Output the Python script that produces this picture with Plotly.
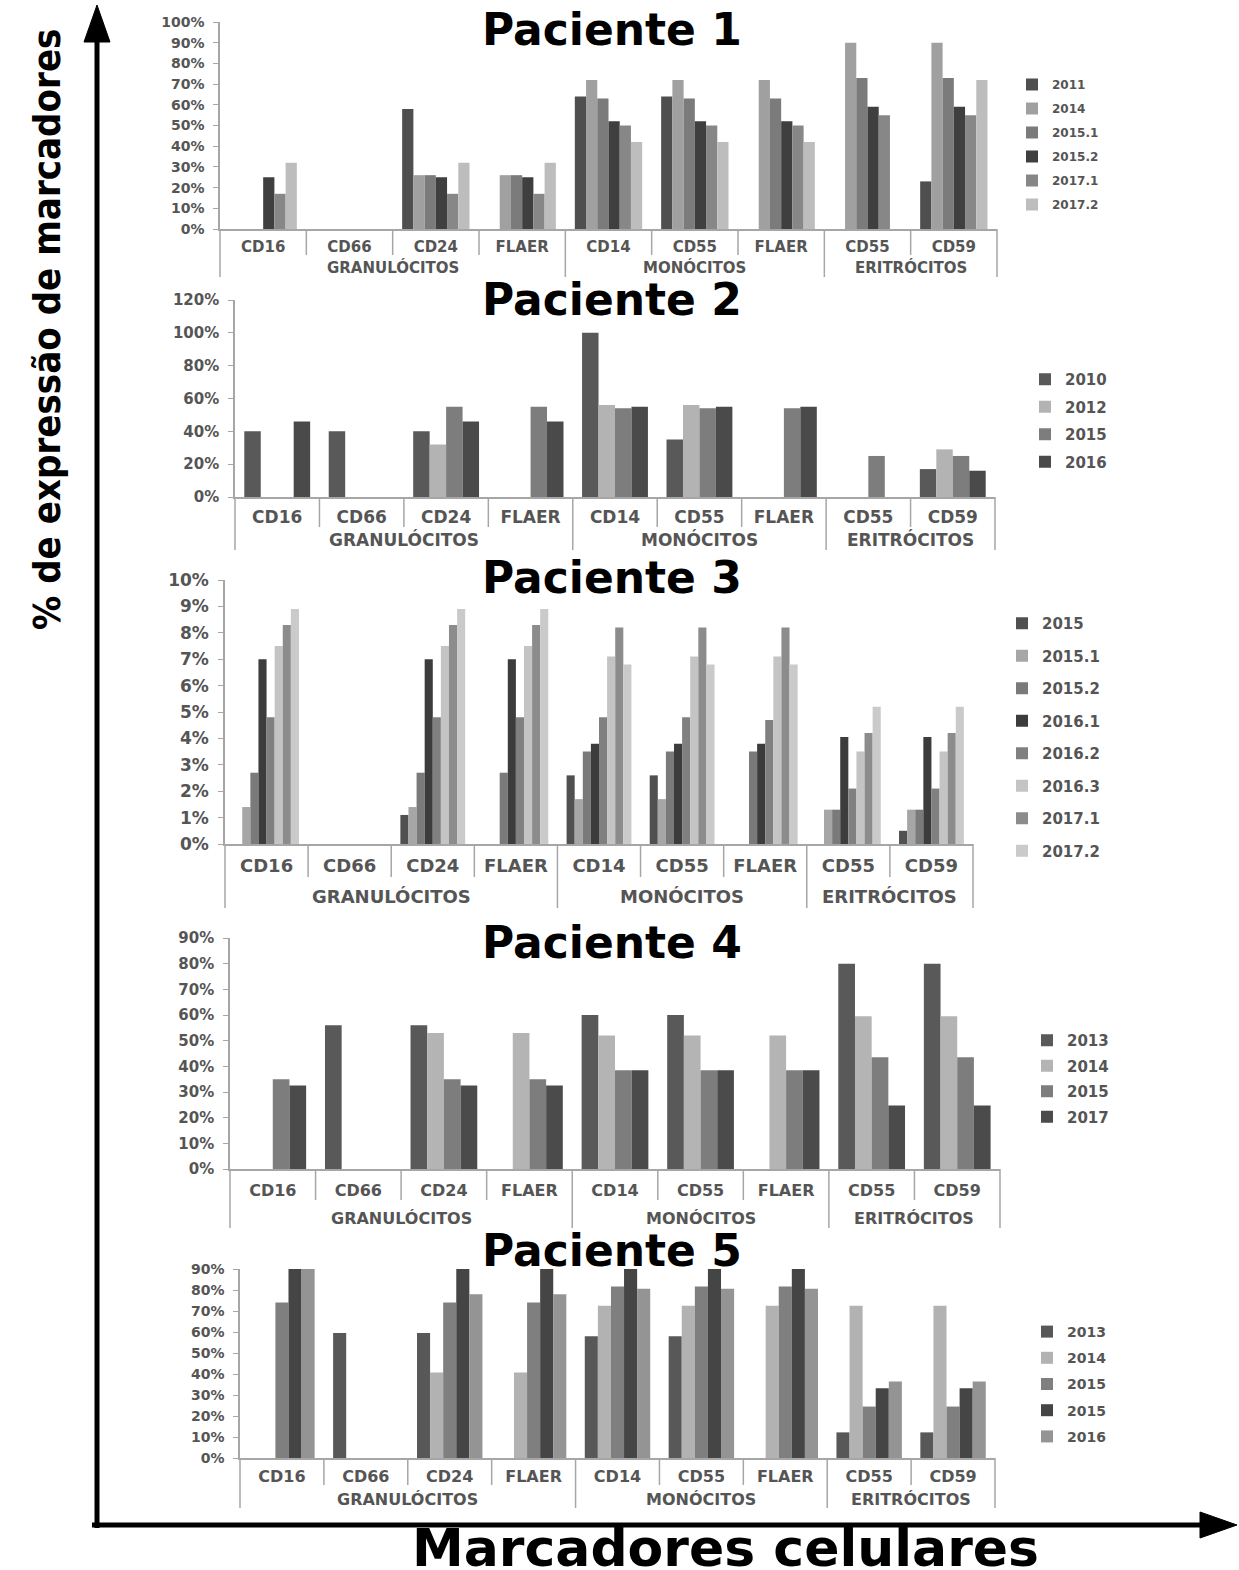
import plotly.graph_objects as go

W, H = 1239, 1570

# ---------------- data ----------------
groups = ["GRANULÓCITOS"] * 4 + ["MONÓCITOS"] * 3 + ["ERITRÓCITOS"] * 2
markers = ["CD16", "CD66", "CD24", "FLAER", "CD14", "CD55", "FLAER", "CD55", "CD59"]
group_names = ["GRANULÓCITOS", "MONÓCITOS", "ERITRÓCITOS"]

# Paciente 1 (%)
p1_names = ["2011", "2014", "2015.1", "2015.2", "2017.1", "2017.2"]
p1_2011 = [None, None, 58, None, 64, 64, None, None, 23]
p1_2014 = [None, None, 26, 26, 72, 72, 72, 90, 90]
p1_2015_1 = [None, None, 26, 26, 63, 63, 63, 73, 73]
p1_2015_2 = [25, None, 25, 25, 52, 52, 52, 59, 59]
p1_2017_1 = [17, None, 17, 17, 50, 50, 50, 55, 55]
p1_2017_2 = [32, None, 32, 32, 42, 42, 42, None, 72]

# Paciente 2 (%)
p2_names = ["2010", "2012", "2015", "2016"]
p2_2010 = [40, 40, 40, None, 100, 35, None, None, 17]
p2_2012 = [None, None, 32, None, 56, 56, None, None, 29]
p2_2015 = [None, None, 55, 55, 54, 54, 54, 25, 25]
p2_2016 = [46, None, 46, 46, 55, 55, 55, None, 16]

# Paciente 3 (%)
p3_names = ["2015", "2015.1", "2015.2", "2016.1", "2016.2", "2016.3", "2017.1", "2017.2"]
p3_2015 = [None, None, 1.1, None, 2.6, 2.6, None, None, 0.5]
p3_2015_1 = [1.4, None, 1.4, None, 1.7, 1.7, None, 1.3, 1.3]
p3_2015_2 = [2.7, None, 2.7, 2.7, 3.5, 3.5, 3.5, 1.3, 1.3]
p3_2016_1 = [7.0, None, 7.0, 7.0, 3.8, 3.8, 3.8, 4.05, 4.05]
p3_2016_2 = [4.8, None, 4.8, 4.8, 4.8, 4.8, 4.7, 2.1, 2.1]
p3_2016_3 = [7.5, None, 7.5, 7.5, 7.1, 7.1, 7.1, 3.5, 3.5]
p3_2017_1 = [8.3, None, 8.3, 8.3, 8.2, 8.2, 8.2, 4.2, 4.2]
p3_2017_2 = [8.9, None, 8.9, 8.9, 6.8, 6.8, 6.8, 5.2, 5.2]

# Paciente 4 (%)
p4_names = ["2013", "2014", "2015", "2017"]
p4_2013 = [None, 56, 56, None, 60, 60, None, 80, 80]
p4_2014 = [None, None, 53, 53, 52, 52, 52, 59.5, 59.5]
p4_2015 = [35, None, 35, 35, 38.5, 38.5, 38.5, 43.5, 43.5]
p4_2017 = [32.5, None, 32.5, 32.5, 38.5, 38.5, 38.5, 24.7, 24.7]

# Paciente 5 (%)
p5_names = ["2013", "2014", "2015", "2015", "2016"]
p5_2013 = [None, 59.5, 59.5, None, 58, 58, None, 12.2, 12.2]
p5_2014 = [None, None, 40.7, 40.7, 72.5, 72.5, 72.5, 72.5, 72.5]
p5_2015a = [74, None, 74, 74, 81.7, 81.7, 81.7, 24.5, 24.5]
p5_2015b = [90, None, 90, 90, 90, 90, 90, 33.2, 33.2]
p5_2016 = [90, None, 78, 78, 80.6, 80.6, 80.6, 36.4, 36.4]

titles = ["Paciente 1", "Paciente 2", "Paciente 3", "Paciente 4", "Paciente 5"]
y_label = "% de expressão de marcadores"
x_label = "Marcadores celulares"

# unique category keys (group + marker) so repeated marker names stay separate
cat_keys = [g + " · " + m for g, m in zip(groups, markers)]

# ---------------- styling / layout (pixels) ----------------
panels = [
    dict(title=titles[0], names=p1_names,
         series=[p1_2011, p1_2014, p1_2015_1, p1_2015_2, p1_2017_1, p1_2017_2],
         colors=["#4f4f4f", "#a0a0a0", "#7b7b7b", "#3f3f3f", "#878787", "#bdbdbd"],
         ymax=100, dtick=10, x0=220, x1=997, ytop=22, ybot=229,
         tick_fs=14, cat_fs=15, leg_fs=12, leg_x=1012, leg_top=70, leg_gap=5,
         lab_stand=3, grp_y=268, tick_bot=255, div_bot=277, title_y=30),
    dict(title=titles[1], names=p2_names,
         series=[p2_2010, p2_2012, p2_2015, p2_2016],
         colors=["#595959", "#b3b3b3", "#7d7d7d", "#4a4a4a"],
         ymax=120, dtick=20, x0=235, x1=995, ytop=300, ybot=497,
         tick_fs=15, cat_fs=17, leg_fs=15, leg_x=1025, leg_top=363, leg_gap=5,
         lab_stand=4, grp_y=540, tick_bot=527, div_bot=550, title_y=300),
    dict(title=titles[2], names=p3_names,
         series=[p3_2015, p3_2015_1, p3_2015_2, p3_2016_1, p3_2016_2, p3_2016_3,
                 p3_2017_1, p3_2017_2],
         colors=["#505050", "#a6a6a6", "#7a7a7a", "#3c3c3c", "#808080", "#c4c4c4",
                 "#8c8c8c", "#cacaca"],
         ymax=10, dtick=1, x0=225, x1=973, ytop=580, ybot=844,
         tick_fs=17, cat_fs=18, leg_fs=15, leg_x=1002, leg_top=607, leg_gap=10,
         lab_stand=5, grp_y=896, tick_bot=877, div_bot=908, title_y=577),
    dict(title=titles[3], names=p4_names,
         series=[p4_2013, p4_2014, p4_2015, p4_2017],
         colors=["#595959", "#b4b4b4", "#7d7d7d", "#4b4b4b"],
         ymax=90, dtick=10, x0=230, x1=1000, ytop=938, ybot=1169,
         tick_fs=15, cat_fs=16, leg_fs=15, leg_x=1027, leg_top=1024, leg_gap=3,
         lab_stand=6, grp_y=1218, tick_bot=1200, div_bot=1228, title_y=942),
    dict(title=titles[4], names=p5_names,
         series=[p5_2013, p5_2014, p5_2015a, p5_2015b, p5_2016],
         colors=["#585858", "#b2b2b2", "#7f7f7f", "#454545", "#949494"],
         ymax=90, dtick=10, x0=240, x1=995, ytop=1269, ybot=1458,
         tick_fs=14, cat_fs=16, leg_fs=14, leg_x=1027, leg_top=1316, leg_gap=5,
         lab_stand=3, grp_y=1499, tick_bot=1485, div_bot=1508, title_y=1250),
]

FONT = "DejaVu Sans"
TXT = "#555555"
AXC = "#a6a6a6"


def px_x(v):
    return v / W


def px_y(v):
    return 1 - v / H


fig = go.Figure()
layout = dict(
    width=W, height=H, margin=dict(l=0, r=0, t=0, b=0, autoexpand=False),
    paper_bgcolor="white", plot_bgcolor="white",
    barmode="group", bargap=0.22, bargroupgap=0.0,
    showlegend=True, font=dict(family=FONT, color=TXT),
)
shapes = []
annotations = []
ncat = len(markers)

for i, p in enumerate(panels):
    n = i + 1
    sfx = "" if n == 1 else str(n)
    xa, ya = "x" + sfx, "y" + sfx
    leg = "legend" + sfx
    for name, vals, col in zip(p["names"], p["series"], p["colors"]):
        fig.add_trace(go.Bar(
            x=cat_keys, y=vals, name=name,
            marker=dict(color=col, line=dict(width=0)),
            xaxis=xa, yaxis=ya, legend=leg,
            legendgroup=f"p{n}-{name}-{col}",
        ))
    layout["xaxis" + sfx] = dict(
        domain=[px_x(p["x0"]), px_x(p["x1"])], anchor=ya, type="category",
        categoryorder="array", categoryarray=cat_keys,
        tickmode="array", tickvals=cat_keys, ticktext=markers,
        showline=True, linecolor=AXC, linewidth=1.5, ticks="",
        tickfont=dict(family=FONT, size=p["cat_fs"], color=TXT, weight="bold"),
        showgrid=False, zeroline=False, automargin=False,
        ticklabelstandoff=p["lab_stand"], tickangle=0,
    )
    layout["yaxis" + sfx] = dict(
        domain=[px_y(p["ybot"]), px_y(p["ytop"])], anchor=xa,
        range=[0, p["ymax"]], dtick=p["dtick"], tick0=0, ticksuffix="%",
        showline=True, linecolor=AXC, linewidth=1.5, ticks="outside",
        ticklen=5, tickcolor=AXC, showgrid=False, zeroline=False,
        tickfont=dict(family=FONT, size=p["tick_fs"], color=TXT, weight="bold"),
        automargin=False, ticklabelstandoff=6,
    )
    layout[leg] = dict(
        x=px_x(p["leg_x"]), y=px_y(p["leg_top"]), xanchor="left", yanchor="top",
        orientation="v", traceorder="grouped", tracegroupgap=p["leg_gap"],
        bgcolor="rgba(0,0,0,0)", itemwidth=30,
        font=dict(family=FONT, size=p["leg_fs"], color=TXT, weight="bold"),
    )
    dom_h = p["ybot"] - p["ytop"]
    # category boundary tick lines and group dividers (Excel-style)
    bounds = [0]
    for k in range(1, ncat):
        if groups[k] != groups[k - 1]:
            bounds.append(k)
    bounds.append(ncat)
    for k in range(0, ncat + 1):
        is_div = k in bounds
        bot = p["div_bot"] if is_div else p["tick_bot"]
        shapes.append(dict(
            type="line", xref=xa + " domain", yref=ya + " domain",
            x0=k / ncat, x1=k / ncat, y0=0, y1=-(bot - p["ybot"]) / dom_h,
            line=dict(color=AXC, width=1.5),
        ))
    # group labels
    for gi in range(len(bounds) - 1):
        a, b = bounds[gi], bounds[gi + 1]
        annotations.append(dict(
            text=groups[a], xref=xa + " domain", yref="paper",
            x=(a + b) / 2 / ncat, y=px_y(p["grp_y"]), xanchor="center",
            yanchor="middle", showarrow=False,
            font=dict(family=FONT, size=p["cat_fs"], color=TXT, weight="bold"),
        ))
    annotations.append(dict(
        text=p["title"], xref="paper", yref="paper",
        x=px_x(612), y=px_y(p["title_y"]), xanchor="center", yanchor="middle",
        showarrow=False, font=dict(family=FONT, size=44, color="black", weight="bold"),
    ))

# big axis arrows
shapes.append(dict(type="line", xref="paper", yref="paper",
                   x0=px_x(97), x1=px_x(97), y0=px_y(1528), y1=px_y(38),
                   line=dict(color="black", width=5)))
shapes.append(dict(type="path", xref="paper", yref="paper",
                   path=f"M{px_x(84)},{px_y(42)} L{px_x(110)},{px_y(42)} L{px_x(97)},{px_y(5)} Z",
                   fillcolor="black", line=dict(color="black", width=1)))
shapes.append(dict(type="line", xref="paper", yref="paper",
                   x0=px_x(92), x1=px_x(1203), y0=px_y(1525), y1=px_y(1525),
                   line=dict(color="black", width=5)))
shapes.append(dict(type="path", xref="paper", yref="paper",
                   path=f"M{px_x(1200)},{px_y(1512)} L{px_x(1200)},{px_y(1538)} L{px_x(1237)},{px_y(1525)} Z",
                   fillcolor="black", line=dict(color="black", width=1)))

annotations.append(dict(
    text=y_label, xref="paper", yref="paper", x=px_x(47), y=px_y(330),
    xanchor="center", yanchor="middle", textangle=-90, showarrow=False,
    font=dict(family="Liberation Sans Narrow, DejaVu Sans Condensed, sans-serif",
              size=38, color="black", weight="bold"),
))
annotations.append(dict(
    text=x_label, xref="paper", yref="paper", x=px_x(725), y=px_y(1548),
    xanchor="center", yanchor="middle", showarrow=False,
    font=dict(family=FONT, size=52, color="black", weight="bold"),
))

layout["shapes"] = shapes
layout["annotations"] = annotations
fig.update_layout(**layout)

fig.write_html("out.html", config={"displayModeBar": False},
               post_script="document.body.style.margin='0';document.body.style.overflow='hidden';")
